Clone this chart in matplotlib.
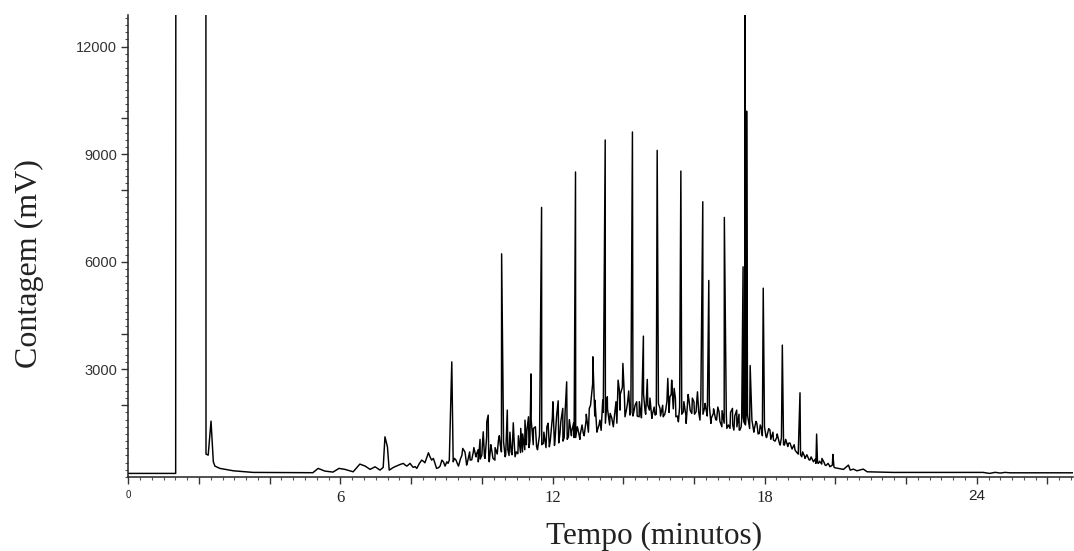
import matplotlib
matplotlib.use("Agg")
import matplotlib.pyplot as plt
from matplotlib.ticker import MultipleLocator, FixedLocator, FuncFormatter

# -----------------------------
# Chromatogram trace (time in minutes, signal in mV)
# -----------------------------

# baseline + solvent peaks (they run far above the top of the plot)
solvent_t = [0.0, 1.34, 1.352, 2.19, 2.198, 2.26, 2.34, 2.405, 2.45, 2.59, 2.97, 3.53]
solvent_v = [100, 100, 40000, 40000, 638, 610, 1558, 424, 304, 240, 173, 128]

early_t = [5.22, 5.37, 5.56, 5.79, 5.96, 6.13, 6.36, 6.55, 6.70, 6.84, 6.98, 7.12,
           7.21, 7.26, 7.33, 7.38, 7.50, 7.69, 7.78, 7.88, 7.97, 8.06, 8.16, 8.30,
           8.39, 8.49, 8.58, 8.63, 8.72, 8.82, 8.87, 8.96, 9.01, 9.08, 9.15, 9.19,
           9.27, 9.34, 9.40, 9.46, 9.52, 9.57, 9.67, 9.76, 9.84, 9.90, 9.95, 10.00,
           10.04, 10.09, 10.14, 10.18, 10.21, 10.28, 10.37, 10.47]
early_v = [120, 240, 165, 137, 240, 212, 145, 360, 304, 212, 285, 192,
           268, 1121, 842, 192, 268, 350, 379, 304, 379, 268, 240, 471,
           396, 675, 471, 518, 240, 304, 471, 304, 424, 471, 3209, 424,
           471, 304, 518, 797, 703, 332, 471, 703, 611, 424, 1048, 611,
           1260, 518, 1539, 1726, 424, 750, 471, 1029]

mid_a_t = [10.52, 10.56, 10.61, 10.66, 10.72, 10.77, 10.83, 10.89, 10.94, 11.02,
           11.10, 11.15, 11.22, 11.26, 11.32, 11.36, 11.39, 11.46, 11.55, 11.63,
           11.69, 11.74, 11.84, 11.91, 12.01, 12.07, 12.16, 12.21, 12.29, 12.33,
           12.40, 12.45, 12.54, 12.61, 12.65, 12.70, 12.78, 12.87, 12.95, 13.04,
           13.14, 13.20, 13.27, 13.34, 13.42, 13.49, 13.55, 13.63, 13.72, 13.82,
           13.89]
mid_a_v = [900, 6223, 1308, 564, 1865, 600, 700, 1511, 564, 650,
           1355, 700, 1586, 900, 1678, 1000, 2874, 1355, 842, 1150,
           7516, 937, 1400, 842, 2097, 1029, 2124, 1215, 1913, 1100,
           2654, 1121, 1260, 1100, 8503, 1400, 1168, 1215, 1586, 1913,
           3351, 2144, 1308, 1586, 2144, 9396, 2236, 1773, 1400, 1500,
           2423]

mid_b_t = [13.91, 13.99, 14.05, 14.12, 14.19, 14.26, 14.31, 14.38, 14.45, 14.52,
           14.57, 14.62, 14.68, 14.74, 14.81, 14.90, 14.96, 15.04, 15.13, 15.20,
           15.26, 15.32, 15.37, 15.44, 15.49, 15.56, 15.63, 15.70, 15.78, 15.86,
           15.94, 16.00, 16.06, 16.10, 16.17, 16.25, 16.31, 16.38, 16.42, 16.48,
           16.55, 16.64, 16.71, 16.79, 16.86, 16.93, 17.02, 17.09, 17.13, 17.21,
           17.28]
mid_b_v = [1865, 3167, 1678, 2052, 1726, 9619, 1865, 2097, 1678, 1818,
           3928, 1818, 2721, 1865, 1634, 1726, 9106, 1913, 1678, 1865,
           2749, 2236, 2700, 2470, 1678, 1539, 8530, 1818, 1494, 2144,
           1773, 2097, 1818, 2375, 1586, 7674, 1960, 1865, 5479, 1494,
           1773, 1586, 1818, 1400, 7237, 1355, 1355, 1913, 1308, 1865,
           1308]

late_t = [17.30, 17.35, 17.39, 17.43, 17.45, 17.48, 17.49, 17.52, 17.59, 17.64,
          17.70, 17.78, 17.85, 17.92, 17.96, 18.04, 18.15, 18.25, 18.34, 18.44,
          18.50, 18.56, 18.67, 18.77, 18.86, 18.95, 19.00, 19.05, 19.14, 19.28,
          19.38, 19.45, 19.47, 19.52, 19.62, 19.71, 19.85, 19.93, 19.96, 20.08,
          20.23, 20.37, 20.42, 20.51, 20.61, 20.79, 20.90, 21.31, 21.64]
late_v = [1308, 1586, 5860, 1500, 14000, 1800, 10200, 1700, 3107, 1586,
          1308, 1494, 1215, 1308, 5265, 1121, 1308, 1029, 1100, 889,
          3677, 889, 936, 797, 750, 638, 2348, 564, 518, 471,
          424, 379, 1196, 379, 518, 332, 285, 630, 285, 240,
          212, 332, 192, 220, 173, 220, 145, 137, 128]

tail_t = [24.18, 24.36, 24.52, 24.66, 24.80, 24.94, 26.72]
tail_v = [128, 100, 130, 110, 128, 117, 117]

# small wiggles between the marked points (the dense "grass" on the hump)
wiggle_early_t = [7.835, 8.015, 8.115, 8.235, 8.345, 8.435, 8.535, 8.675, 8.775,
                  8.915, 9.045, 9.225, 9.305, 9.435]
wiggle_early_v = [330, 320, 290, 380, 440, 520, 560, 380, 260,
                  420, 380, 520, 380, 600]

wiggle_t = [9.535, 9.595, 9.655, 9.715, 9.775, 9.835, 9.895, 9.955, 10.015, 10.075,
            10.135, 10.195, 10.255, 10.315, 10.375, 10.435, 10.495, 10.555, 10.615, 10.675,
            10.735, 10.795, 10.855, 10.915, 10.975, 11.035, 11.095, 11.155, 11.215, 11.275,
            11.335, 11.395, 11.455, 11.515, 11.575, 11.635, 11.695, 11.755, 11.815, 11.875,
            11.935, 11.995, 12.055, 12.115, 12.175, 12.235, 12.295, 12.355, 12.415, 12.475,
            12.535, 12.595, 12.655, 12.715, 12.775, 12.835, 12.895, 12.955, 13.015, 13.075,
            13.135, 13.195, 13.255, 13.315, 13.375, 13.435, 13.495, 13.555, 13.615, 13.675,
            13.735, 13.795, 13.855, 13.915, 13.975, 14.035, 14.095, 14.155, 14.215, 14.275,
            14.335, 14.395, 14.455, 14.515, 14.575, 14.635, 14.695, 14.755, 14.815, 14.875,
            14.935, 14.995, 15.055, 15.115, 15.175, 15.235, 15.295, 15.355, 15.415, 15.475,
            15.535, 15.595, 15.655, 15.715, 15.775, 15.835, 15.895, 15.955, 16.015, 16.075,
            16.135, 16.195, 16.255, 16.315, 16.375, 16.435, 16.495, 16.555, 16.615, 16.675,
            16.735, 16.795, 16.855, 16.915, 16.975, 17.035, 17.095, 17.155, 17.215, 17.275,
            17.335, 17.395, 17.455, 17.515, 17.575, 17.635, 17.695, 17.755, 17.815, 17.875,
            17.935, 17.995, 18.055, 18.115, 18.175, 18.235, 18.295, 18.355, 18.415, 18.475,
            18.535, 18.595, 18.655, 18.715, 18.775, 18.835, 18.895, 18.955, 19.015, 19.075,
            19.135, 19.195, 19.255, 19.315, 19.375, 19.435, 19.495, 19.555, 19.615, 19.675,
            19.735, 19.795, 19.855, 19.915, 19.975]
wiggle_v = [620, 420, 700, 480, 820, 560, 760, 500, 880, 560,
            1100, 600, 900, 520, 820, 640, 1150, 700, 980, 620,
            760, 1250, 620, 980, 700, 1150, 680, 1200, 760, 1300,
            820, 1600, 900, 1400, 760, 1350, 900, 1250, 820, 1500,
            1000, 1650, 880, 1700, 950, 1550, 1000, 1800, 1050, 1600,
            1150, 1500, 1100, 1350, 1050, 1450, 1150, 1750, 1250, 2000,
            2600, 1700, 1250, 1450, 1300, 1800, 1500, 1900, 1450, 1650,
            1550, 2100, 2700, 2300, 2500, 2200, 1900, 2400, 1800, 1700,
            2000, 1700, 2100, 1650, 2300, 1750, 2000, 2200, 1700, 1950,
            1750, 2050, 1700, 2000, 1750, 2100, 1800, 2300, 1900, 2200,
            1700, 1950, 1750, 2100, 1700, 2300, 1850, 2200, 1750, 2050,
            1800, 2200, 1750, 2050, 1700, 2000, 1650, 1900, 1600, 1950,
            1550, 1850, 1500, 1750, 1450, 1800, 1450, 1700, 1400, 1750,
            1400, 1650, 1450, 1800, 1350, 1700, 1250, 1550, 1200, 1450,
            1150, 1400, 1100, 1350, 1050, 1250, 1000, 1200, 950, 1100,
            900, 1050, 850, 950, 780, 900, 700, 800, 620, 700,
            560, 620, 480, 560, 430, 500, 400, 440, 360, 420,
            320, 380, 290, 330, 260]

trace = sorted(zip(solvent_t + early_t + mid_a_t + mid_b_t + late_t + tail_t
                   + wiggle_early_t + wiggle_t,
                   solvent_v + early_v + mid_a_v + mid_b_v + late_v + tail_v
                   + wiggle_early_v + wiggle_v))
time_min = [p[0] for p in trace]
signal_mv = [p[1] for p in trace]

x_labels = [0, 6, 12, 18, 24]
y_labels = [3000, 6000, 9000, 12000]

# -----------------------------
# Plot
# -----------------------------

fig = plt.figure(figsize=(10.74, 5.51), dpi=100)
ax = fig.add_axes([128.3 / 1074, 1 - 477 / 551, 1 - 128.3 / 1074 - 0.001, (477 - 15) / 551])

ax.plot(time_min, signal_mv, color="black", lw=1.05)

ax.set_xlim(0, 26.72)
ax.set_ylim(0, 12880)

for side in ["top", "right"]:
    ax.spines[side].set_visible(False)
for side in ["left", "bottom"]:
    ax.spines[side].set_linewidth(1.1)
    ax.spines[side].set_color("#222222")

# x ticks: long every 2 min, short every 20 s, numbers every 6 min
ax.xaxis.set_major_locator(MultipleLocator(2))
ax.xaxis.set_minor_locator(MultipleLocator(1 / 3))
ax.xaxis.set_major_formatter(FuncFormatter(lambda v, p: f"{v:.0f}" if round(v) in x_labels else ""))

# y ticks: long at 2000 multiples and labelled 3000 multiples, short every 200
ax.yaxis.set_major_locator(FixedLocator([2000, 3000, 4000, 6000, 8000, 9000, 10000, 12000]))
ax.yaxis.set_minor_locator(MultipleLocator(200))
ax.yaxis.set_major_formatter(FuncFormatter(lambda v, p: f"{v:.0f}" if round(v) in y_labels else ""))

ax.tick_params(axis="both", which="major", length=5, width=1, color="#333333", pad=3)
ax.tick_params(axis="both", which="minor", length=2.5, width=0.8, color="#555555")
ax.tick_params(axis="x", which="major", pad=4)

for lab in ax.get_yticklabels():
    lab.set_fontfamily("Liberation Sans")
    lab.set_fontsize(10.5)
    lab.set_color("#333333")
for lab in ax.get_xticklabels():
    txt = lab.get_text()
    if txt in ("6", "12", "18"):
        lab.set_fontfamily("Liberation Serif")
        lab.set_fontsize(12)
    elif txt == "0":
        lab.set_fontfamily("Liberation Sans")
        lab.set_fontsize(7)
    else:
        lab.set_fontfamily("Liberation Sans")
        lab.set_fontsize(11)
    lab.set_color("#222222")

fig.text(654 / 1074, 1 - 536 / 551, "Tempo (minutos)", ha="center", va="center",
         fontfamily="Liberation Serif", fontsize=22.5, color="#222222")
fig.text(29 / 1074, 1 - 264 / 551, "Contagem (mV)", ha="center", va="center", rotation=90,
         fontfamily="Liberation Serif", fontsize=23, color="#222222")

fig.savefig("out.png", dpi=100)
